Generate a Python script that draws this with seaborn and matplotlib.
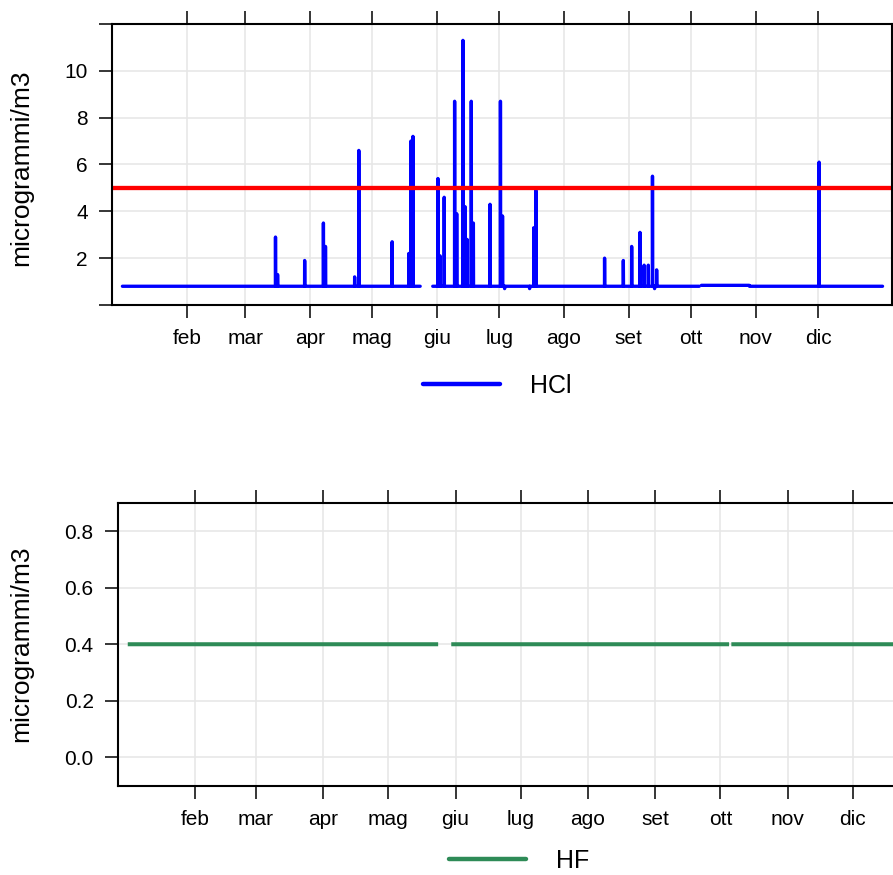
import matplotlib
matplotlib.use("Agg")
import matplotlib.pyplot as plt
from matplotlib.lines import Line2D
import seaborn as sns
import pandas as pd
import numpy as np

# hourly values for one year
year_start = "2019-01-01 00:00"
year_end = "2019-12-31 23:00"

# HCl: baseline level plus the peaks
hcl_base = 0.8
hcl_peak_dates = [
    "2019-03-15", "2019-03-16", "2019-03-29", "2019-04-07", "2019-04-08",
    "2019-04-22", "2019-04-24", "2019-05-10", "2019-05-18", "2019-05-19",
    "2019-05-20", "2019-06-01", "2019-06-02", "2019-06-04", "2019-06-09",
    "2019-06-10", "2019-06-13", "2019-06-14", "2019-06-15", "2019-06-17",
    "2019-06-18", "2019-06-26", "2019-07-01", "2019-07-02", "2019-07-03",
    "2019-07-15", "2019-07-17", "2019-07-18", "2019-08-20", "2019-08-29",
    "2019-09-02", "2019-09-06", "2019-09-08", "2019-09-10", "2019-09-12",
    "2019-09-13", "2019-09-14", "2019-12-01",
]
hcl_peak_values = [
    2.9, 1.3, 1.9, 3.5, 2.5,
    1.2, 6.6, 2.7, 2.2, 7.0,
    7.2, 5.4, 2.1, 4.6, 8.7,
    3.9, 11.3, 4.2, 2.8, 8.7,
    3.5, 4.3, 8.7, 3.8, 0.7,
    0.7, 3.3, 4.9, 2.0, 1.9,
    2.5, 3.1, 1.7, 1.7, 5.5,
    0.7, 1.5, 6.1,
]
hcl_raised_start = "2019-10-06"
hcl_raised_end = "2019-10-28"
hcl_raised_value = 0.84
hcl_gaps = [("2019-05-24", "2019-05-29"), ("2019-10-05", "2019-10-05")]
hcl_limit = 5

# HF: constant level with missing days
hf_base = 0.4
hf_gaps = [("2019-05-24", "2019-05-29"), ("2019-10-05", "2019-10-05")]

month_ticks = ["2019-02-01", "2019-03-01", "2019-04-01", "2019-05-01", "2019-06-01",
               "2019-07-01", "2019-08-01", "2019-09-01", "2019-10-01", "2019-11-01",
               "2019-12-01"]
month_labels = ["feb", "mar", "apr", "mag", "giu", "lug", "ago", "set", "ott", "nov", "dic"]


def build_series(base, gaps, peak_dates=(), peak_values=(), raised=None):
    times = pd.date_range(year_start, year_end, freq="h")
    s = pd.Series(base, index=times, dtype=float)
    day_end = pd.Timedelta(hours=23)
    if raised is not None:
        s[pd.Timestamp(raised[0]):pd.Timestamp(raised[1]) + day_end] = raised[2]
    for d, v in zip(peak_dates, peak_values):
        s[pd.Timestamp(d) + pd.Timedelta(hours=12)] = v
    for g0, g1 in gaps:
        s[pd.Timestamp(g0):pd.Timestamp(g1) + day_end] = np.nan
    df = s.rename("value").to_frame()
    df["date"] = df.index
    # separate runs so the gaps stay open
    df["seg"] = df["value"].isna().cumsum()
    return df.dropna().reset_index(drop=True)


hcl = build_series(hcl_base, hcl_gaps, hcl_peak_dates, hcl_peak_values,
                   (hcl_raised_start, hcl_raised_end, hcl_raised_value))
hf = build_series(hf_base, hf_gaps)

sns.set_theme(style="whitegrid")
plt.rcParams["font.family"] = ["Liberation Sans", "DejaVu Sans"]
plt.rcParams["text.color"] = "black"
plt.rcParams["axes.labelcolor"] = "black"
plt.rcParams["grid.color"] = "#E6E6E6"
plt.rcParams["grid.linewidth"] = 1.1

W, H = 893, 875
fig = plt.figure(figsize=(W / 100, H / 100), dpi=100)
fig.patch.set_facecolor("white")

t0 = pd.Timestamp("2019-01-01")


def style_axes(ax, day_lo, day_hi):
    ax.set_xlim(t0 + pd.Timedelta(days=day_lo), t0 + pd.Timedelta(days=day_hi))
    ax.set_xticks(pd.to_datetime(month_ticks))
    ax.set_xticklabels(month_labels)
    ax.set_xlabel("")
    ax.set_ylabel("microgrammi/m3", fontsize=19, color="black")
    for sp in ax.spines.values():
        sp.set_color("black")
        sp.set_linewidth(1.5)
        sp.set_visible(True)
    ax.tick_params(axis="x", which="both", top=True, bottom=True, direction="out",
                   length=9.5, width=1.1, pad=8, labelsize=15, colors="black")
    ax.tick_params(axis="y", left=True, right=False, direction="out",
                   length=9.5, width=1.1, pad=8, labelsize=15, colors="black")
    ax.grid(True, color="#E6E6E6", linewidth=1.1)
    ax.set_axisbelow(True)


# top panel: HCl
ax1 = fig.add_axes([112 / W, 1 - 305 / H, 780 / W, 281 / H])
sns.lineplot(data=hcl, x="date", y="value", units="seg", estimator=None,
             color="#0000FF", linewidth=2.4, ax=ax1)
for ln in ax1.get_lines():
    ln.set_solid_joinstyle("round")
    ln.set_solid_capstyle("round")
ax1.axhline(hcl_limit, color="#FF0000", linewidth=3.1)
style_axes(ax1, -5.0, 369.5)
ax1.set_ylim(0, 12)
ax1.set_yticks([0, 2, 4, 6, 8, 10, 12])
ax1.set_yticklabels(["", "2", "4", "6", "8", "10", ""])
ax1.yaxis.set_label_coords((33 - 112) / 780, 0.49)
ax1.legend(handles=[Line2D([], [], color="#0000FF", linewidth=3.2, solid_capstyle="round")],
           labels=["HCl"], loc="center", bbox_to_anchor=(497 / W, 1 - 386 / H),
           bbox_transform=fig.transFigure, frameon=False, fontsize=18,
           handlelength=3.1, handletextpad=1.2, labelcolor="black")

# bottom panel: HF
ax2 = fig.add_axes([118 / W, 1 - 785.5 / H, 812 / W, 282.5 / H])
sns.lineplot(data=hf, x="date", y="value", units="seg", estimator=None,
             color="#2E8B57", linewidth=2.9, ax=ax2)
for ln in ax2.get_lines():
    ln.set_solid_capstyle("butt")
style_axes(ax2, -4.5, 369.5)
ax2.set_ylim(-0.1, 0.9)
ax2.set_yticks([0.0, 0.2, 0.4, 0.6, 0.8])
ax2.set_yticklabels(["0.0", "0.2", "0.4", "0.6", "0.8"])
ax2.yaxis.set_label_coords((33 - 118) / 812, 0.5)
ax2.legend(handles=[Line2D([], [], color="#2E8B57", linewidth=3.2, solid_capstyle="round")],
           labels=["HF"], loc="center", bbox_to_anchor=(519 / W, 1 - 861 / H),
           bbox_transform=fig.transFigure, frameon=False, fontsize=18,
           handlelength=3.1, handletextpad=1.2, labelcolor="black")

fig.savefig("out.png", dpi=100, facecolor="white")
